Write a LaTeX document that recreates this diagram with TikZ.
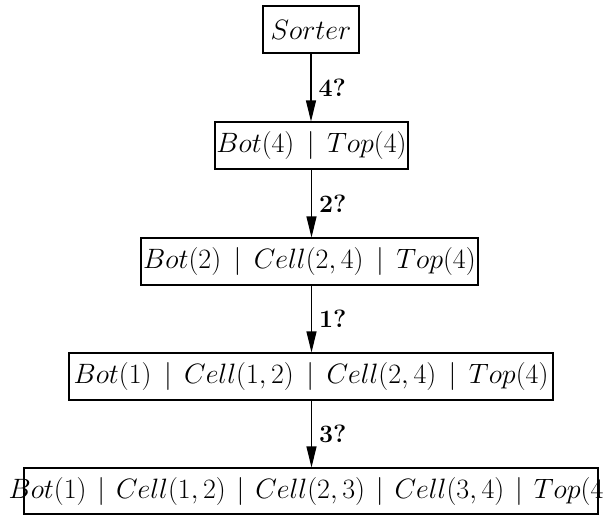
\RequirePackage{fix-cm}
\documentclass[tikz,border=0pt]{standalone}
\usetikzlibrary{arrows.meta}
\newcommand\sepbar{\mskip3mu\mid\mskip3mu}
\newcommand\sepbarn{\mskip2mu\mid\mskip2mu}
\begin{document}
\begin{tikzpicture}[x=1pt,y=-1pt,
  box/.style={draw,line width=1.1pt,inner sep=0pt,minimum height=47pt,font=\fontsize{28}{33}\selectfont},
  conn/.style={line width=1.1pt,-{Triangle[length=21pt,width=10pt]}},
  lab/.style={font=\fontsize{25}{30}\selectfont\bfseries,anchor=west,inner sep=0pt}]
\useasboundingbox (0,0) rectangle (604,517);
\node[box,minimum width=96pt] (s) at (311,29.5) {$Sorter$};
\node[box,minimum width=193pt] (b2) at (311.5,145.5) {$Bot(4)\sepbar Top(4)$};
\node[box,minimum width=337pt] (b3) at (309.5,261.5) {$Bot(2)\sepbar Cell(2,4)\sepbar Top(4)$};
\node[box,minimum width=484pt] (b4) at (311,376.5) {$Bot(1)\sepbar Cell(1,2)\sepbar Cell(2,4)\sepbar Top(4)$};
\node[box,minimum width=574pt,minimum height=46pt] (b5) at (311,491) {};
\node[font=\fontsize{28}{33}\selectfont,inner sep=0pt] (t5) at (b5.center) {$Bot(1)\sepbarn Cell(1,2)\sepbarn Cell(2,3)\sepbarn Cell(3,4)\sepbarn Top(4)$};
\draw[conn] (s.south) -- (s.south |- b2.north) node[lab,midway,xshift=7pt] {4?};
\draw[conn] (b2.south) -- (b2.south |- b3.north) node[lab,midway,xshift=7pt] {2?};
\draw[conn] (b3.south -| b2.south) -- (b2.south |- b4.north) node[lab,midway,xshift=7pt] {1?};
\draw[conn] (b4.south -| b2.south) -- (b2.south |- b5.north) node[lab,midway,xshift=7pt] {3?};
\end{tikzpicture}
\end{document}
